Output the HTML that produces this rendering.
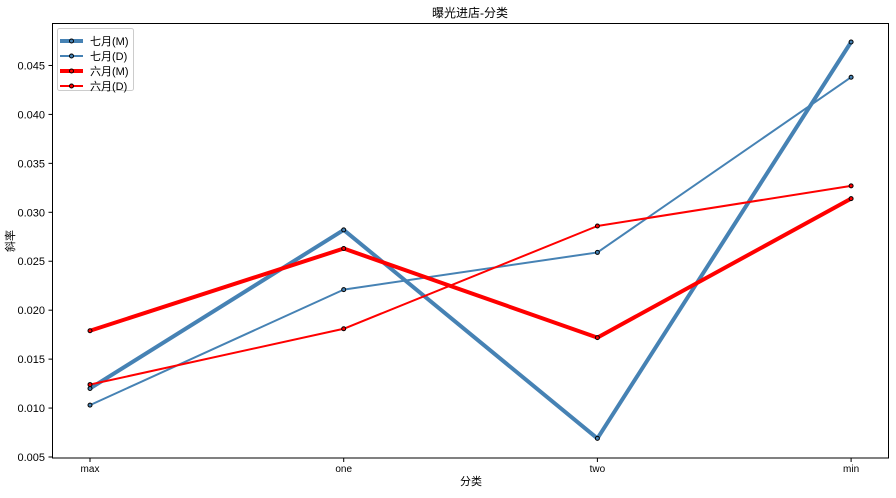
<!DOCTYPE html>
<html><head><meta charset="utf-8"><style>
body{margin:0;background:#fff;}
svg text{font-family:"Liberation Sans","Noto Sans CJK SC",sans-serif;fill:#000;}
</style></head><body>
<svg id="chart" width="896" height="493" xmlns="http://www.w3.org/2000/svg">
<rect width="896" height="493" fill="#fff"/>
<text x="470" y="17" font-size="12" text-anchor="middle">曝光进店-分类</text>
<g id="axes"></g><g id="series"></g>
<rect x="52.5" y="23.5" width="836" height="434.5" fill="none" stroke="#000" stroke-width="1"/>
<text x="471" y="485" font-size="11" text-anchor="middle">分类</text>
<text x="14" y="241" font-size="11" text-anchor="middle" transform="rotate(-90 14 241)">斜率</text>
<g id="legend"></g>
</svg>
<script>
const categories=["max","one","two","min"];
const yTicks=[0.005,0.010,0.015,0.020,0.025,0.030,0.035,0.040,0.045];
const julM=[0.0120,0.0282,0.0069,0.0474];
const julD=[0.0103,0.0221,0.0259,0.0438];
const junM=[0.0179,0.0263,0.0172,0.0314];
const junD=[0.0124,0.0181,0.0286,0.0327];
const seriesNames=["七月(M)","七月(D)","六月(M)","六月(D)"];
const NS="http://www.w3.org/2000/svg";
function x(i){return 90+i*253.7;}
function y(v){return 457-(v-0.005)*9788;}
function mk(t,a,p){const e=document.createElementNS(NS,t);for(const k in a)e.setAttribute(k,a[k]);p.appendChild(e);return e;}
const ax=document.getElementById('axes');
yTicks.forEach(v=>{
 const l=mk('line',{x1:48.5,x2:52.5,y1:y(v),y2:y(v),stroke:'#000'},ax);
 
 
 const t=mk('text',{x:45,y:y(v)+4,'font-size':11,'text-anchor':'end'},ax);t.textContent=v.toFixed(3);
 
 
});
categories.forEach((c,i)=>{
 const l=mk('line',{x1:x(i),x2:x(i),y1:458,y2:462,stroke:'#000'},ax);
 
 
 const t=mk('text',{x:x(i),y:472,'font-size':10,'text-anchor':'middle'},ax);t.textContent=c;
 
 
});
const sd=[[julM,'#4682b4',4],[julD,'#4682b4',2],[junM,'#ff0000',4],[junD,'#ff0000',2]];
const sg=document.getElementById('series');
sd.forEach((s,k)=>{
 const g=mk('g',{},sg);
 
 
 const p=mk('polyline',{points:s[0].map((v,i)=>x(i)+','+y(v)).join(' '),fill:'none',stroke:s[1],'stroke-width':s[2],'stroke-linejoin':'round'},g);
 
 
 s[0].forEach((v,i)=>{
  const c=mk('circle',{cx:x(i),cy:y(v),r:2,fill:s[1],stroke:'#000','stroke-width':1},g);
  
  
 });
});
const lg=document.getElementById('legend');
const box=mk('rect',{x:57.5,y:28.5,width:76,height:62,rx:2,fill:'#fff',stroke:'#ccc'},lg);


sd.forEach((s,k)=>{
 const yy=41+k*15;
 const l=mk('line',{x1:60,x2:83,y1:yy,y2:yy,stroke:s[1],'stroke-width':s[2]},lg);
 
 
 mk('circle',{cx:71.5,cy:yy,r:2,fill:s[1],stroke:'#000'},lg);
 const t=mk('text',{x:90,y:yy+4,'font-size':11},lg);t.textContent=seriesNames[k];
 
 
});
</script>
</body></html>
